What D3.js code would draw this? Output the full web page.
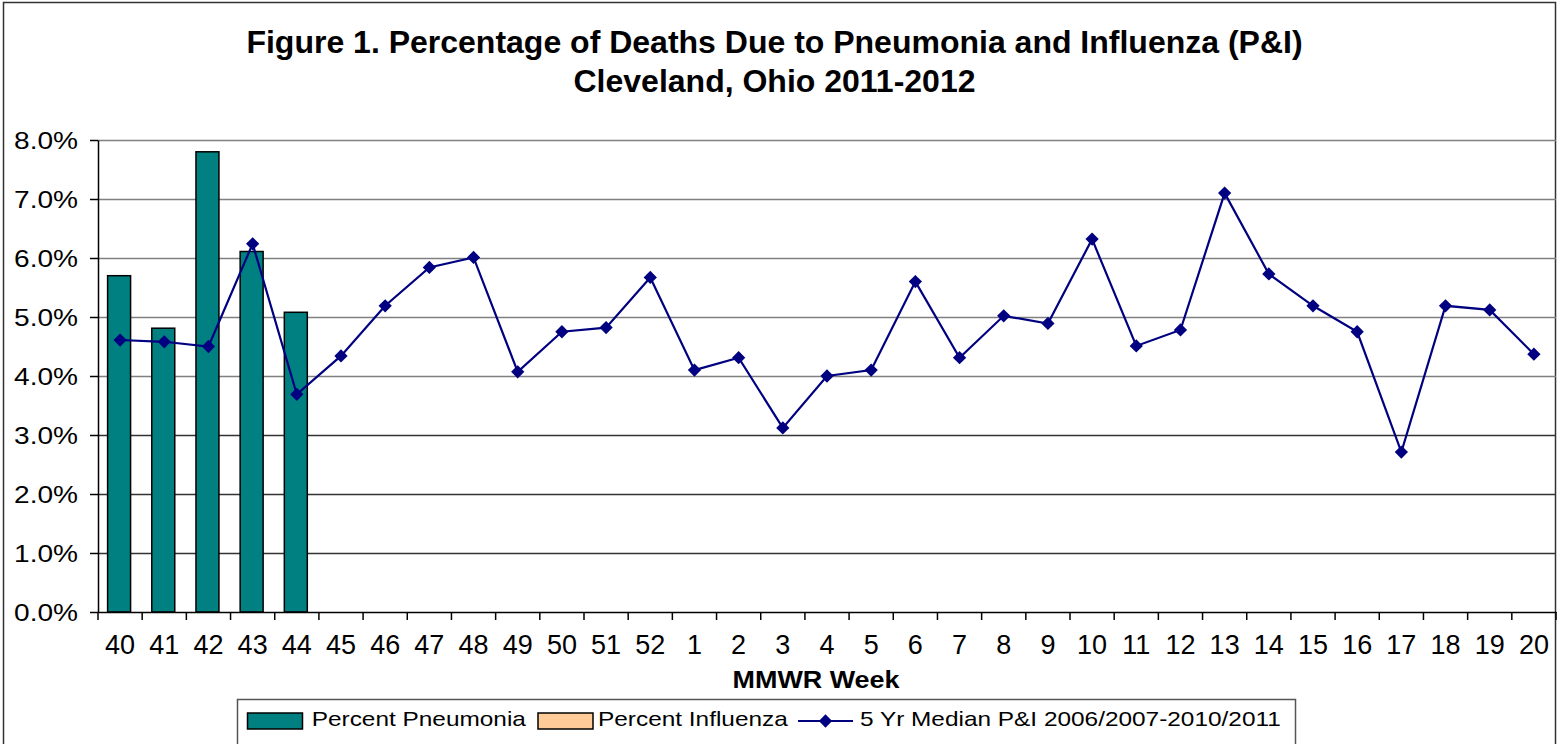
<!DOCTYPE html>
<html>
<head>
<meta charset="utf-8">
<script src="https://cdn.jsdelivr.net/npm/d3@7"></script>
<style>
  body { margin: 0; background: #fff; }
  text { font-family: "Liberation Sans", Arial, sans-serif; fill: #000; }
</style>
</head>
<body>
<div id="chart"></div>
<script>
// MMWR weeks of the 2011-2012 season
var weeks = ["40", "41", "42", "43", "44", "45", "46", "47", "48", "49", "50", "51", "52",
             "1", "2", "3", "4", "5", "6", "7", "8", "9", "10", "11", "12", "13", "14",
             "15", "16", "17", "18", "19", "20"];

// reported so far (weeks 40-44), in percent
var pneumonia = [5.70, 4.81, 7.80, 6.11, 5.08];
var influenza = [0, 0, 0, 0, 0];

// 5 yr median P&I 2006/2007-2010/2011, in percent
var median5yr = [4.61, 4.58, 4.50, 6.24, 3.69, 4.34, 5.19, 5.84, 6.01, 4.07, 4.75, 4.82, 5.67,
                 4.10, 4.31, 3.12, 4.00, 4.10, 5.60, 4.31, 5.02, 4.89, 6.32, 4.51, 4.78, 7.10,
                 5.73, 5.19, 4.75, 2.71, 5.19, 5.12, 4.37];

var yTicks = [0, 1, 2, 3, 4, 5, 6, 7, 8];

var legendLabels = ["Percent Pneumonia", "Percent Influenza", "5 Yr Median P&I 2006/2007-2010/2011"];

var W = 1561, H = 744;
var plot = { left: 98, right: 1556, top: 140, bottom: 612 };

var svg = d3.select("#chart").append("svg")
    .attr("width", W)
    .attr("height", H);

// outer chart frame
svg.append("rect")
    .attr("x", 3.5).attr("y", 2.5)
    .attr("width", 1552).attr("height", 800)
    .attr("fill", "#fff")
    .attr("stroke", "#333")
    .attr("stroke-width", 1.5);

// Scales
var x = d3.scaleBand()
    .domain(weeks)
    .range([plot.left, plot.right]);

var y = d3.scaleLinear()
    .domain([0, 8])
    .range([plot.bottom, plot.top]);

// gridlines
svg.append("g")
    .attr("class", "grid")
    .attr("transform", "translate(" + plot.left + ",0)")
    .call(d3.axisLeft(y).tickValues(yTicks.slice(1)).tickSize(-(plot.right - plot.left)).tickFormat(""))
    .call(function(g) {
        g.select(".domain").remove();
        g.selectAll("line")
            .attr("stroke", function(d) { return d >= 4 ? "#808080" : "#333"; })
            .attr("stroke-width", 1.5);
    });

// bars
var barW = x.bandwidth() * 0.52;

svg.append("g").selectAll("rect")
    .data(pneumonia)
    .enter().append("rect")
    .attr("x", function(d, i) { return x(weeks[i]) + x.bandwidth() / 2 - barW / 2 - 1; })
    .attr("y", function(d) { return y(d); })
    .attr("width", barW)
    .attr("height", function(d) { return y(0) - y(d); })
    .attr("fill", "#008080")
    .attr("stroke", "#000")
    .attr("stroke-width", 1.5);

// y axis
svg.append("g")
    .attr("class", "y-axis")
    .attr("transform", "translate(" + plot.left + ",0)")
    .call(d3.axisLeft(y).tickValues(yTicks).tickSize(8).tickSizeOuter(0)
        .tickFormat(function(d) { return d3.format(".1f")(d) + "%"; }))
    .call(function(g) {
        g.select(".domain").attr("stroke", "#000").attr("stroke-width", 1.5);
        g.selectAll("line").attr("stroke", "#000").attr("stroke-width", 1.5);
        g.selectAll("text")
            .attr("x", 0).attr("dy", null)
            .attr("transform", "translate(-20,8.5) scale(1.17,1)")
            .style("font-size", "24px")
            .attr("fill", "#000");
    });

// x axis
svg.append("g")
    .attr("class", "x-axis")
    .attr("transform", "translate(0," + plot.bottom + ")")
    .call(d3.axisBottom(x).tickSize(0).tickSizeOuter(0))
    .call(function(g) {
        g.select(".domain").attr("stroke", "#000").attr("stroke-width", 1.5);
        g.selectAll("text")
            .attr("y", 42).attr("dy", null)
            .style("font-size", "27px")
            .attr("fill", "#000");
    });

// category boundary ticks
svg.append("g").selectAll("line")
    .data(weeks.concat(["end"]))
    .enter().append("line")
    .attr("x1", function(d, i) { return plot.left + i * x.step(); })
    .attr("x2", function(d, i) { return plot.left + i * x.step(); })
    .attr("y1", plot.bottom)
    .attr("y2", plot.bottom + 8)
    .attr("stroke", "#000")
    .attr("stroke-width", 1.5);

// median line
var line = d3.line()
    .x(function(d, i) { return x(weeks[i]) + x.bandwidth() / 2; })
    .y(function(d) { return y(d); });

svg.append("path")
    .datum(median5yr)
    .attr("d", line)
    .attr("fill", "none")
    .attr("stroke", "#000080")
    .attr("stroke-width", 2.2);

var diamond = d3.symbol().type(d3.symbolSquare).size(88);

svg.append("g").selectAll("path")
    .data(median5yr)
    .enter().append("path")
    .attr("d", diamond)
    .attr("transform", function(d, i) {
        return "translate(" + (x(weeks[i]) + x.bandwidth() / 2) + "," + y(d) + ") rotate(45)";
    })
    .attr("fill", "#000080");

// titles
svg.append("text")
    .attr("x", 774.5).attr("y", 53)
    .attr("text-anchor", "middle")
    .style("font-size", "32px").style("font-weight", "bold")
    .text("Figure 1. Percentage of Deaths Due to Pneumonia and Influenza (P&I)");

svg.append("text")
    .attr("x", 774.5).attr("y", 92)
    .attr("text-anchor", "middle")
    .style("font-size", "32px").style("font-weight", "bold")
    .text("Cleveland, Ohio 2011-2012");

svg.append("text")
    .attr("transform", "translate(816,688) scale(1.17,1)")
    .attr("text-anchor", "middle")
    .style("font-size", "23px").style("font-weight", "bold")
    .text("MMWR Week");

// legend
var legend = svg.append("g");

legend.append("rect")
    .attr("x", 237.5).attr("y", 699.5)
    .attr("width", 1058).attr("height", 80)
    .attr("fill", "#fff")
    .attr("stroke", "#555")
    .attr("stroke-width", 1.5);

legend.append("rect")
    .attr("x", 247.5).attr("y", 713)
    .attr("width", 55).attr("height", 16)
    .attr("fill", "#008080").attr("stroke", "#000").attr("stroke-width", 1.5);

legend.append("rect")
    .attr("x", 538).attr("y", 713)
    .attr("width", 55).attr("height", 16)
    .attr("fill", "#FFCC99").attr("stroke", "#000").attr("stroke-width", 1.5);

legend.append("line")
    .attr("x1", 798).attr("x2", 853)
    .attr("y1", 721).attr("y2", 721)
    .attr("stroke", "#000080").attr("stroke-width", 2.2);

legend.append("path")
    .attr("d", diamond)
    .attr("transform", "translate(825.5,721) rotate(45)")
    .attr("fill", "#000080");

var legendX = [311.7, 598, 860];

legend.selectAll("text.lbl")
    .data(legendLabels)
    .enter().append("text")
    .attr("class", "lbl")
    .attr("transform", function(d, i) { return "translate(" + legendX[i] + ",726) scale(1.22,1)"; })
    .style("font-size", "20px")
    .text(function(d) { return d; });
</script>
</body>
</html>
